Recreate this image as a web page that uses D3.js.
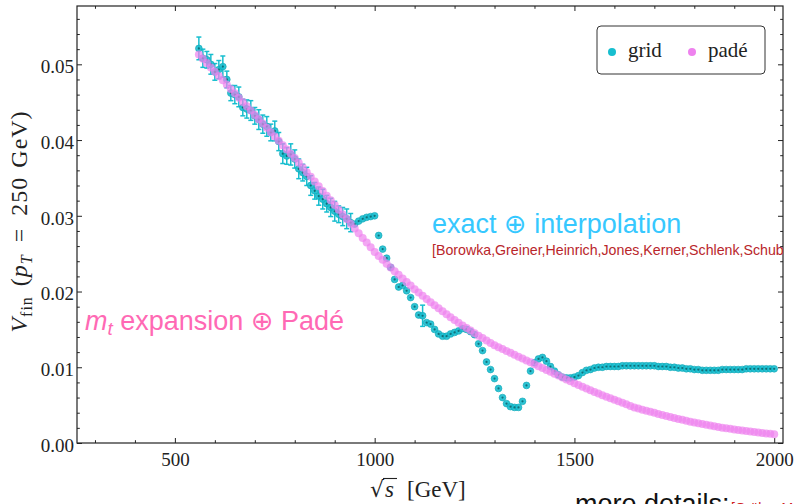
<!DOCTYPE html>
<html>
<head>
<meta charset="utf-8">
<script src="https://cdn.jsdelivr.net/npm/d3@7"></script>
<style>
  body { margin: 0; background: #ffffff; }
  svg { display: block; }
  .ticklabel text { font-family: "Liberation Serif", serif; font-size: 19px; fill: #222; }
  .serif { font-family: "Liberation Serif", serif; fill: #222; }
  .sans { font-family: "Liberation Sans", "DejaVu Sans", sans-serif; }
</style>
</head>
<body>
<svg id="chart"></svg>
<script>
//DATA//
// sqrt(s) in GeV, shared by both series
var energies = [
  560, 570, 580, 590, 600, 610, 620, 630, 640, 650,
  660, 670, 680, 690, 700, 710, 720, 730, 740, 750,
  760, 770, 780, 790, 800, 810, 820, 830, 840, 850,
  860, 870, 880, 890, 900, 910, 920, 930, 940, 950,
  960, 970, 980, 990, 1000, 1010, 1020, 1030, 1040, 1050,
  1060, 1070, 1080, 1090, 1100, 1110, 1120, 1130, 1140, 1150,
  1160, 1170, 1180, 1190, 1200, 1210, 1220, 1230, 1240, 1250,
  1260, 1270, 1280, 1290, 1300, 1310, 1320, 1330, 1340, 1350,
  1360, 1370, 1380, 1390, 1400, 1410, 1420, 1430, 1440, 1450,
  1460, 1470, 1480, 1490, 1500, 1510, 1520, 1530, 1540, 1550,
  1560, 1570, 1580, 1590, 1600, 1610, 1620, 1630, 1640, 1650,
  1660, 1670, 1680, 1690, 1700, 1710, 1720, 1730, 1740, 1750,
  1760, 1770, 1780, 1790, 1800, 1810, 1820, 1830, 1840, 1850,
  1860, 1870, 1880, 1890, 1900, 1910, 1920, 1930, 1940, 1950,
  1960, 1970, 1980, 1990, 2000
];

var gridValues = [
  0.0521, 0.0508, 0.0506, 0.0500, 0.0490, 0.0493, 0.0497, 0.0480, 0.0462, 0.0460,
  0.0457, 0.0443, 0.0441, 0.0439, 0.0432, 0.0427, 0.0421, 0.0418, 0.0410, 0.0412,
  0.0398, 0.0382, 0.0379, 0.0381, 0.0375, 0.0362, 0.0357, 0.0352, 0.0340, 0.0333,
  0.0326, 0.0322, 0.0316, 0.0311, 0.0306, 0.0302, 0.0299, 0.0296, 0.0291, 0.0289,
  0.0293, 0.0296, 0.0298, 0.0299, 0.0300, 0.0274, 0.0256, 0.0244, 0.0232, 0.0216,
  0.0206, 0.0208, 0.0201, 0.0192, 0.0180, 0.0169, 0.0168, 0.0159, 0.0157, 0.0150,
  0.0144, 0.0141, 0.0141, 0.0144, 0.0146, 0.0148, 0.0151, 0.0150, 0.0147, 0.0143,
  0.0131, 0.0122, 0.0107, 0.0097, 0.0085, 0.0072, 0.0060, 0.0052, 0.0048, 0.0047,
  0.0047, 0.0055, 0.0076, 0.0095, 0.0106, 0.0111, 0.0113, 0.0108, 0.0101, 0.0095,
  0.0090, 0.0087, 0.0086, 0.0086, 0.0087, 0.0089, 0.0093, 0.0096, 0.0097, 0.0099,
  0.0100, 0.0100, 0.0101, 0.0101, 0.0101, 0.0101, 0.0102, 0.0102, 0.0102, 0.0102,
  0.0102, 0.0102, 0.0102, 0.0102, 0.0102, 0.0101, 0.0101, 0.0101, 0.0100, 0.0100,
  0.0099, 0.0099, 0.0098, 0.0098, 0.0097, 0.0097, 0.0096, 0.0096, 0.0096, 0.0096,
  0.0096, 0.0097, 0.0097, 0.0097, 0.0097, 0.0097, 0.0097, 0.0098, 0.0098, 0.0098,
  0.0098, 0.0098, 0.0098, 0.0098, 0.0098
];

var padeValues = [
  0.0513, 0.05073, 0.05016, 0.04959, 0.04902, 0.04845, 0.04788, 0.04731, 0.04674, 0.04617,
  0.0456, 0.04503, 0.04446, 0.04389, 0.04332, 0.04275, 0.04218, 0.04161, 0.04104, 0.04047,
  0.0399, 0.03933, 0.03876, 0.03819, 0.03762, 0.0370, 0.03638, 0.03576, 0.03514, 0.03452,
  0.0339, 0.03328, 0.03266, 0.03204, 0.03142, 0.0308, 0.03018, 0.02956, 0.02894, 0.02832,
  0.0277, 0.02708, 0.02646, 0.02584, 0.02522, 0.0247, 0.02418, 0.02367, 0.02317, 0.02268,
  0.0222, 0.02172, 0.02125, 0.02079, 0.0203, 0.01987, 0.01944, 0.01901, 0.01859, 0.01818,
  0.01778, 0.01739, 0.017, 0.01662, 0.01625, 0.01589, 0.01553, 0.01518, 0.01484, 0.0145,
  0.01417, 0.01385, 0.01353, 0.01322, 0.01291, 0.01265, 0.0124, 0.01215, 0.0119, 0.01165,
  0.0114, 0.01115, 0.0109, 0.01065, 0.0104, 0.01015, 0.0099, 0.00965, 0.0094, 0.00915,
  0.0089, 0.00865, 0.0084, 0.00815, 0.0079, 0.00767, 0.00744, 0.00721, 0.00698, 0.00675,
  0.00653, 0.00632, 0.00611, 0.0059, 0.0057, 0.0055, 0.0053, 0.0051, 0.0049, 0.0047,
  0.00455, 0.0044, 0.00426, 0.00412, 0.00398, 0.00384, 0.0037, 0.00356, 0.00343, 0.0033,
  0.00318, 0.00306, 0.00294, 0.00282, 0.00271, 0.0026, 0.0025, 0.0024, 0.0023, 0.00221,
  0.00212, 0.00203, 0.00195, 0.00187, 0.00179, 0.00172, 0.00165, 0.00158, 0.00151, 0.00145,
  0.00139, 0.00133, 0.00127, 0.00122, 0.00117
];

// grid points that carry an error bar, and the half size of that bar
var errorEnergies = [
  560, 570, 580, 590, 600, 610, 620, 630, 640, 650,
  660, 670, 680, 690, 700, 710, 720, 730, 740, 750,
  760, 770, 780, 790, 800, 810, 820, 830, 840, 850,
  860, 870, 880, 890, 900, 910, 920, 930, 940, 1120
];
var errorSizes = [
  0.0015, 0.0012, 0.0011, 0.0013, 0.0011, 0.0012, 0.0014, 0.0011, 0.0010, 0.0012,
  0.0013, 0.0011, 0.0012, 0.0013, 0.0011, 0.0013, 0.0012, 0.0013, 0.0011, 0.0013,
  0.0012, 0.0013, 0.0011, 0.0014, 0.0012, 0.0013, 0.0011, 0.0012, 0.0013, 0.0011,
  0.0012, 0.0013, 0.0011, 0.0012, 0.0013, 0.0011, 0.0012, 0.0013, 0.0012, 0.0014
];

var xTicks = [500, 1000, 1500, 2000];
var yTicks = [0.0, 0.01, 0.02, 0.03, 0.04, 0.05];
var legendLabels = ["grid", "padé"];

//SETUP//
var screen = { width: 794, height: 504 };
var margins = { top: 6, bottom: 61, left: 77, right: 11 };
var graph = {
  width: screen.width - margins.left - margins.right,
  height: screen.height - margins.top - margins.bottom
};
var gridColor = "#17becf";
var padeColor = "#ee82ee";

var svg = d3.select("#chart").attr("width", screen.width).attr("height", screen.height);

var xScale = d3.scaleLinear().domain([255, 2022]).range([0, graph.width]);
var yScale = d3.scaleLinear().domain([0, 0.0577]).range([graph.height, 0]);

var g = svg
  .append("g")
  .classed("graph", true)
  .attr("transform", "translate(" + margins.left + "," + margins.top + ")");

svg
  .append("clipPath")
  .attr("id", "plotClip")
  .append("rect")
  .attr("x", margins.left)
  .attr("y", margins.top)
  .attr("width", graph.width)
  .attr("height", graph.height);

//AXES//
var xMinor = d3.range(300, 2001, 100).filter(function (v) { return v % 500 !== 0; });
var yMinor = d3.range(0, 0.0577, 0.002).filter(function (v) { return Math.round(v * 1000) % 10 !== 0; });

var addAxis = function (axis, transform, cls) {
  var a = g.append("g").attr("transform", transform).call(axis).classed(cls, true);
  a.select(".domain").remove();
  a.selectAll("line").attr("stroke", "#222").attr("stroke-width", 1);
  return a;
};

// major ticks pointing inwards, all four sides
var xb = addAxis(
  d3.axisBottom(xScale).tickValues(xTicks).tickSize(-5).tickPadding(10).tickFormat(d3.format("d")),
  "translate(0," + graph.height + ")", "ticklabel");
xb.selectAll("text").attr("dy", "0.71em");
addAxis(d3.axisTop(xScale).tickValues(xTicks).tickSize(-5).tickFormat(""), "translate(0,0)", "ticks");
var yl = addAxis(
  d3.axisLeft(yScale).tickValues(yTicks).tickSize(-5).tickPadding(3).tickFormat(d3.format(".2f")),
  "translate(0,0)", "ticklabel");
yl.selectAll("text").attr("dy", "0.44em");
addAxis(d3.axisRight(yScale).tickValues(yTicks).tickSize(-5).tickFormat(""), "translate(" + graph.width + ",0)", "ticks");

// minor ticks
addAxis(d3.axisBottom(xScale).tickValues(xMinor).tickSize(-2.8).tickFormat(""), "translate(0," + graph.height + ")", "minor");
addAxis(d3.axisTop(xScale).tickValues(xMinor).tickSize(-2.8).tickFormat(""), "translate(0,0)", "minor");
addAxis(d3.axisLeft(yScale).tickValues(yMinor).tickSize(-2.8).tickFormat(""), "translate(0,0)", "minor");
addAxis(d3.axisRight(yScale).tickValues(yMinor).tickSize(-2.8).tickFormat(""), "translate(" + graph.width + ",0)", "minor");

g.append("rect")
  .attr("x", 0)
  .attr("y", 0)
  .attr("width", graph.width)
  .attr("height", graph.height)
  .attr("fill", "none")
  .attr("stroke", "#222")
  .attr("stroke-width", 1.2);

//POINTS//
var gridData = energies.map(function (e, i) { return { e: e, v: gridValues[i] }; });
var padeData = energies.map(function (e, i) { return { e: e, v: padeValues[i] }; });
var errData = errorEnergies.map(function (e, i) {
  return { e: e, v: gridValues[energies.indexOf(e)], err: errorSizes[i] };
});

var bars = g.append("g").classed("errorbars", true)
  .selectAll("g").data(errData).enter().append("g")
  .attr("stroke", gridColor).attr("stroke-width", 1.5);
bars.append("line")
  .attr("x1", function (d) { return xScale(d.e); })
  .attr("x2", function (d) { return xScale(d.e); })
  .attr("y1", function (d) { return yScale(d.v - d.err); })
  .attr("y2", function (d) { return yScale(d.v + d.err); });
[-1, 1].forEach(function (s) {
  bars.append("line")
    .attr("x1", function (d) { return xScale(d.e) - 2.5; })
    .attr("x2", function (d) { return xScale(d.e) + 2.5; })
    .attr("y1", function (d) { return yScale(d.v + s * d.err); })
    .attr("y2", function (d) { return yScale(d.v + s * d.err); });
});

var gridG = g.append("g").classed("grid", true);
gridG.selectAll("circle.outer").data(gridData).enter().append("circle")
  .attr("class", "outer")
  .attr("cx", function (d) { return xScale(d.e); })
  .attr("cy", function (d) { return yScale(d.v); })
  .attr("r", 3.4)
  .attr("fill", gridColor)
  .attr("fill-opacity", 0.9)
  .attr("stroke", "#10a6b6")
  .attr("stroke-width", 0.6);
gridG.selectAll("circle.inner").data(gridData).enter().append("circle")
  .attr("class", "inner")
  .attr("cx", function (d) { return xScale(d.e); })
  .attr("cy", function (d) { return yScale(d.v); })
  .attr("r", 1.1)
  .attr("fill", "#0b5a63")
  .attr("fill-opacity", 0.8);

g.append("g").classed("pade", true)
  .selectAll("circle").data(padeData).enter().append("circle")
  .attr("cx", function (d) { return xScale(d.e); })
  .attr("cy", function (d) { return yScale(d.v); })
  .attr("r", 4)
  .attr("fill", padeColor)
  .attr("fill-opacity", 0.7);

//LEGEND//
var legend = svg.append("g").classed("legend", true);
legend.append("rect")
  .attr("x", 597).attr("y", 26).attr("width", 168).attr("height", 48)
  .attr("rx", 4).attr("fill", "#fff").attr("stroke", "#333").attr("stroke-width", 1);
var legendColors = [gridColor, padeColor];
legendLabels.forEach(function (label, i) {
  var lx = 612 + i * 80;
  legend.append("circle").attr("cx", lx).attr("cy", 52).attr("r", 4).attr("fill", legendColors[i]);
  legend.append("text").classed("serif", true)
    .attr("x", lx + 16).attr("y", 57).attr("font-size", 21).text(label);
});

//LABELS//
var xlab = svg.append("g").attr("transform", "translate(370,497)").classed("serif", true);
xlab.append("text").attr("font-family", "DejaVu Serif").attr("font-size", 22).attr("fill", "#222")
  .attr("x", 0).attr("y", 0).text("√");
xlab.append("line").attr("x1", 13).attr("x2", 27).attr("y1", -18.5).attr("y2", -18.5)
  .attr("stroke", "#222").attr("stroke-width", 1.1);
xlab.append("text").classed("serif", true).attr("font-size", 23).attr("font-style", "italic")
  .attr("x", 15).attr("y", 0).text("s");
xlab.append("text").classed("serif", true).attr("font-size", 23).attr("x", 37).attr("y", 0).text("[GeV]");

var ylab = svg.append("text").classed("serif", true)
  .attr("transform", "translate(27," + (margins.top + graph.height / 2 - 3) + ") rotate(-90)")
  .attr("text-anchor", "middle")
  .attr("font-size", 24)
  .attr("letter-spacing", 1);
ylab.append("tspan").attr("font-style", "italic").text("V");
ylab.append("tspan").attr("font-size", 16).attr("dy", 5).text("fin");
ylab.append("tspan").attr("dy", -5).attr("dx", 10).text("(");
ylab.append("tspan").attr("font-style", "italic").text("p");
ylab.append("tspan").attr("font-style", "italic").attr("font-size", 16).attr("dy", 5).text("T");
ylab.append("tspan").attr("dy", -5).attr("dx", 12).text("=");
ylab.append("tspan").attr("dx", 12).text("250");
ylab.append("tspan").attr("dx", 9).text("GeV)");

//ANNOTATIONS//
svg.append("text").classed("sans", true)
  .attr("x", 432).attr("y", 233).attr("font-size", 27).attr("fill", "#36c8ff")
  .text("exact ⊕ interpolation");
svg.append("text").classed("sans", true)
  .attr("clip-path", "url(#plotClip)")
  .attr("x", 432).attr("y", 255).attr("font-size", 14.2).attr("fill", "#b9262b")
  .text("[Borowka,Greiner,Heinrich,Jones,Kerner,Schlenk,Schubert,Zirke]");

var mt = svg.append("text").classed("sans", true)
  .attr("x", 85).attr("y", 330).attr("font-size", 27).attr("fill", "#ff69b4");
mt.append("tspan").attr("font-style", "italic").text("m");
mt.append("tspan").attr("font-style", "italic").attr("font-size", 19).attr("dy", 5).text("t");
mt.append("tspan").attr("dy", -5).text(" expansion ⊕ Padé");

svg.append("text").classed("sans", true)
  .attr("x", 575).attr("y", 513).attr("font-size", 27).attr("fill", "#111")
  .text("more details:");
svg.append("text").classed("sans", true)
  .attr("x", 731).attr("y", 513).attr("font-size", 14).attr("fill", "#d02020")
  .text("[Gröber,Maier,Rauh]");
</script>
</body>
</html>
